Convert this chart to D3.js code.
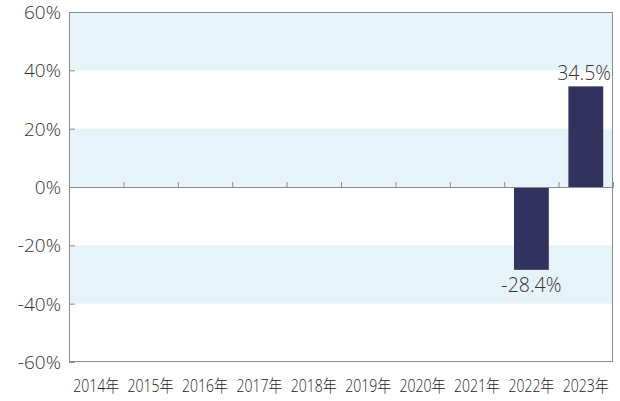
<!DOCTYPE html>
<html>
<head>
<meta charset="utf-8">
<script src="https://cdn.jsdelivr.net/npm/d3@7"></script>
<style>
  body { margin: 0; background: #fff; }
  text { font-family: "Open Sans", "Noto Sans CJK JP", sans-serif; font-weight: 300; fill: #333; }
</style>
</head>
<body>
<div id="chart"></div>
<script>
const years = ['2014年', '2015年', '2016年', '2017年', '2018年', '2019年', '2020年', '2021年', '2022年', '2023年'];
const returns = [null, null, null, null, null, null, null, null, -28.4, 34.5];
const yTicks = [-60, -40, -20, 0, 20, 40, 60];
const bands = [[40, 60], [0, 20], [-40, -20]];

const width = 620;
const height = 401;
const margin = { top: 12, right: 7, bottom: 39, left: 69 };

const svg = d3.select('#chart')
  .append('svg')
  .attr('width', width)
  .attr('height', height);

const x = d3.scaleBand()
  .domain(years)
  .range([margin.left, width - margin.right])
  .paddingInner(0.36)
  .paddingOuter(0.18);

const y = d3.scaleLinear()
  .domain([-60, 60])
  .range([height - margin.bottom, margin.top]);

// shaded bands
svg.append('g')
  .selectAll('rect')
  .data(bands)
  .enter()
  .append('rect')
  .attr('x', margin.left)
  .attr('width', width - margin.right - margin.left)
  .attr('y', d => y(d[1]))
  .attr('height', d => y(d[0]) - y(d[1]))
  .attr('fill', '#e6f4f9');

// bars
const data = years.map((d, i) => ({ year: d, value: returns[i] })).filter(d => d.value !== null);
svg.append('g')
  .selectAll('rect')
  .data(data)
  .enter()
  .append('rect')
  .attr('x', d => x(d.year))
  .attr('width', x.bandwidth())
  .attr('y', d => y(Math.max(0, d.value)))
  .attr('height', d => Math.abs(y(d.value) - y(0)))
  .attr('fill', '#32325e');

// frame
svg.append('rect')
  .attr('x', margin.left + 0.5)
  .attr('y', margin.top + 0.5)
  .attr('width', width - margin.right - margin.left - 1)
  .attr('height', height - margin.bottom - margin.top - 1)
  .attr('fill', 'none')
  .attr('stroke', '#8c8c8c')
  .attr('stroke-width', 1);

// zero line with category ticks
const zeroAxis = svg.append('g')
  .attr('transform', `translate(0,${y(0)})`)
  .call(d3.axisTop(d3.scaleLinear().domain([0, years.length]).range([margin.left, width - margin.right]))
    .tickValues(d3.range(1, years.length))
    .tickSize(5)
    .tickFormat(''));
zeroAxis.select('.domain').attr('stroke', '#8c8c8c');
zeroAxis.selectAll('.tick line').attr('stroke', '#8c8c8c');

// y axis
const yAxis = svg.append('g')
  .attr('transform', `translate(${margin.left},0)`)
  .call(d3.axisRight(y).tickValues(yTicks).tickSize(6).tickFormat(''));
yAxis.select('.domain').remove();
yAxis.selectAll('.tick line').attr('stroke', '#8c8c8c');

svg.append('g')
  .selectAll('text')
  .data(yTicks)
  .enter()
  .append('text')
  .attr('x', margin.left - 8)
  .attr('y', d => y(d))
  .attr('dy', '0.36em')
  .attr('text-anchor', 'end')
  .style('font-size', '19px')
  .text(d => `${d}%`);

// x labels
svg.append('g')
  .selectAll('text')
  .data(years)
  .enter()
  .append('text')
  .attr('x', d => x(d) + x.bandwidth() / 2 - 23)
  .attr('y', height - 9)
  .attr('textLength', 46)
  .attr('lengthAdjust', 'spacingAndGlyphs')
  .style('font-size', '17.5px')
  .style('fill', '#222')
  .text(d => d);

// value labels
const rightEdge = width - margin.right - 2;
svg.append('g')
  .selectAll('text')
  .data(data)
  .enter()
  .append('text')
  .attr('x', d => x(d.year) + x.bandwidth() / 2)
  .attr('y', d => d.value >= 0 ? y(d.value) - 6 : y(d.value) + 22)
  .attr('text-anchor', 'middle')
  .style('font-size', '19.5px')
  .text(d => `${d.value}%`)
  .each(function () {
    const b = this.getBBox();
    if (b.x + b.width > rightEdge) {
      d3.select(this).attr('x', +d3.select(this).attr('x') - (b.x + b.width - rightEdge));
    }
  });
</script>
</body>
</html>
